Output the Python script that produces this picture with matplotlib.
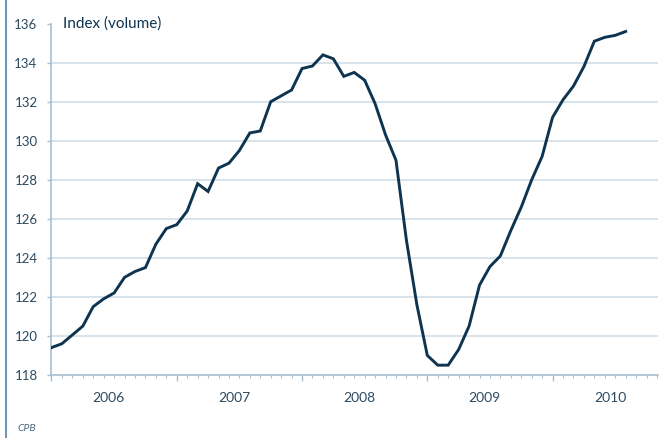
import matplotlib
matplotlib.use("Agg")
import matplotlib.pyplot as plt
from matplotlib.lines import Line2D
from matplotlib.transforms import blended_transform_factory

# Monthly index (volume), Jan 2006 - Aug 2010
months = list(range(56))
values = [
    119.4, 119.6, 120.05, 120.5, 121.5, 121.9, 122.2, 123.0, 123.3, 123.5, 124.7, 125.5,   # 2006
    125.7, 126.4, 127.8, 127.4, 128.6, 128.85, 129.5, 130.4, 130.5, 132.0, 132.3, 132.6,  # 2007
    133.7, 133.83, 134.4, 134.2, 133.3, 133.5, 133.1, 131.9, 130.3, 129.0, 124.9, 121.6,  # 2008
    119.0, 118.5, 118.5, 119.3, 120.5, 122.6, 123.55, 124.1, 125.4, 126.6, 128.0, 129.2,  # 2009
    131.2, 132.1, 132.8, 133.8, 135.1, 135.3, 135.4, 135.6,                              # 2010
]
years = ["2006", "2007", "2008", "2009", "2010"]
yticks = [118, 120, 122, 124, 126, 128, 130, 132, 134, 136]

plt.rcParams['font.family'] = ['Lato', 'DejaVu Sans']

line_color = "#0e3450"
grid_color = "#d6e1ea"
spine_color = "#a9bfcf"
text_color = "#2c4a60"

fig = plt.figure(figsize=(6.6, 4.38), dpi=100)
ax = fig.add_axes([0.078, 0.144, 0.919, 0.802])

ax.plot(months, values, color=line_color, lw=2.1, solid_joinstyle='miter', zorder=3)

ax.set_xlim(0, 58.1)
ax.set_ylim(118, 136)
ax.set_yticks(yticks)
ax.set_yticklabels([str(t) for t in yticks])
for t in yticks[1:-1]:
    ax.axhline(t, color=grid_color, lw=1.3, zorder=1)

for s in ["top", "right"]:
    ax.spines[s].set_visible(False)
for s in ["left", "bottom"]:
    ax.spines[s].set_color(spine_color)
    ax.spines[s].set_linewidth(1.2)

ax.set_xticks([0, 12, 24, 36, 48])
ax.set_xticklabels([])
ax.set_xticks([m for m in range(0, 59) if m % 12 != 0], minor=True)
ax.tick_params(axis='x', which='major', direction='out', length=4, width=1, color=spine_color)
ax.tick_params(axis='x', which='minor', direction='out', length=2.5, width=0.8, color=spine_color)
ax.tick_params(axis='y', which='major', direction='out', length=3, width=1, color=spine_color,
               labelsize=9.5, labelcolor=text_color, pad=7)

trans = blended_transform_factory(ax.transData, ax.transAxes)
for i, y in enumerate(years):
    ax.text(12 * i + 5.5, -0.067, y, transform=trans, ha='center', va='center',
            fontsize=10, color=text_color)

ax.text(0.019, 1.0, "Index (volume)", transform=ax.transAxes, ha='left', va='center',
        fontsize=11, color=line_color)

fig.add_artist(Line2D([0.009, 0.009], [0.0, 1.0], color="#6f98b5", lw=1.5,
                      transform=fig.transFigure))
fig.text(0.026, 0.012, "CPB", fontsize=7.5, style='italic', color="#4a6a80",
         ha='left', va='bottom')

fig.savefig("out.png", dpi=100)
